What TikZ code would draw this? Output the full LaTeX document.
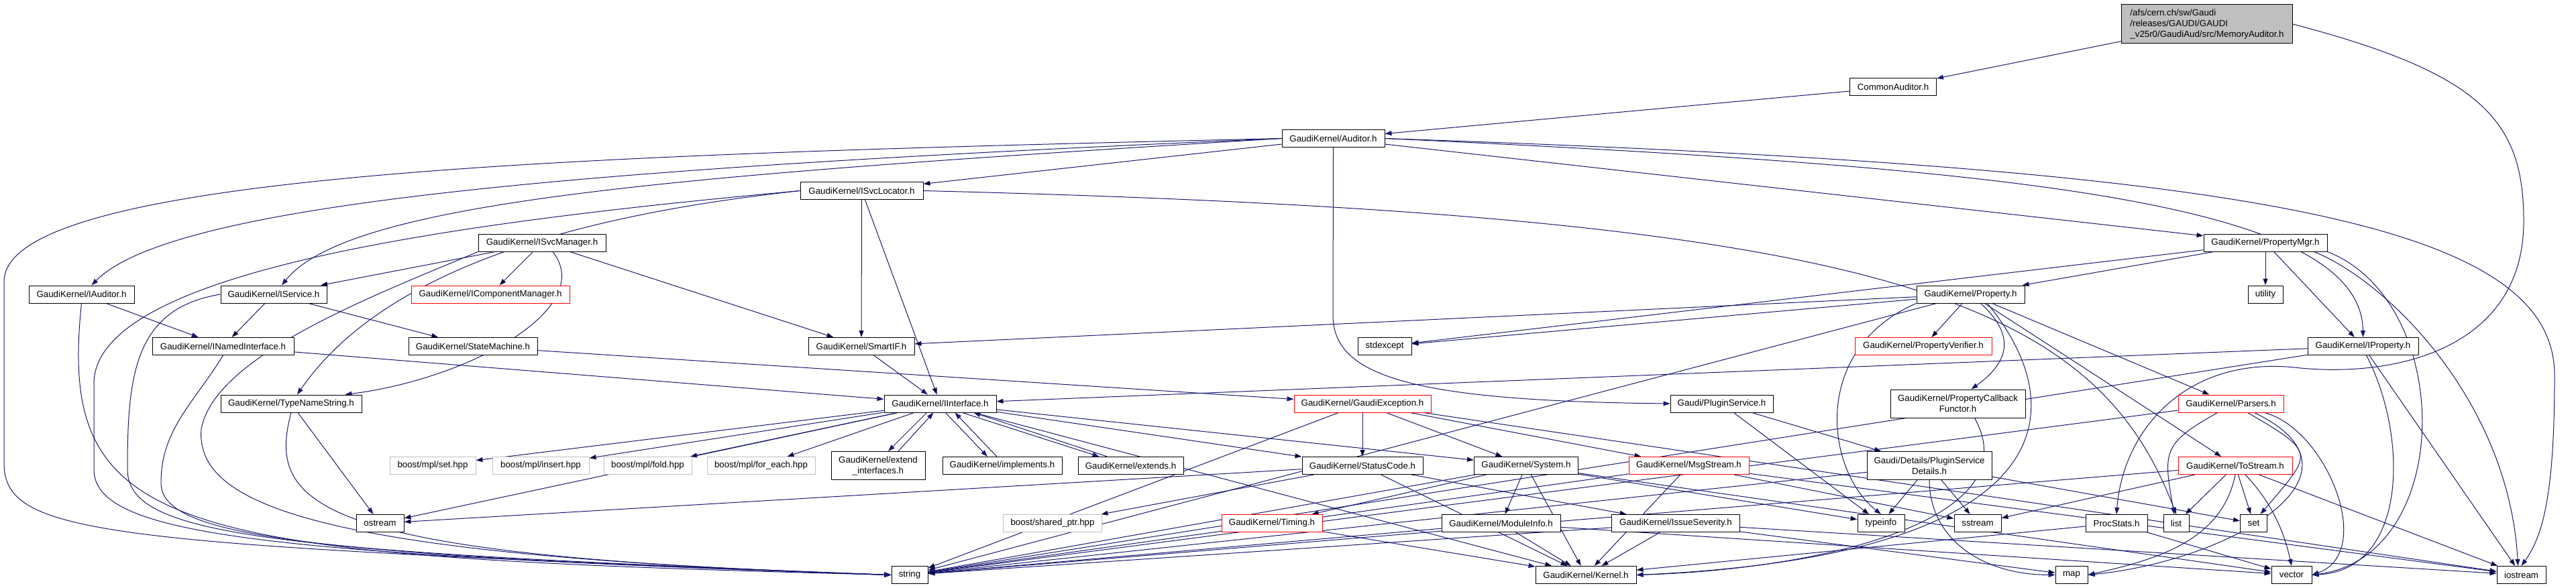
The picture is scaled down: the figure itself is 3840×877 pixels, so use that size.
\documentclass[tikz,border=0pt]{standalone}
\usepackage{fontspec}
\setmainfont{Liberation Sans}
\usepackage{xcolor}
\usepackage{tikz}
\usetikzlibrary{arrows.meta}
\definecolor{edgeblue}{HTML}{191970}
\definecolor{extgray}{HTML}{BFBFBF}
\pgfdeclarelayer{links}
\pgfsetlayers{links,main}
\tikzset{
	hdrnode/.style={rectangle, draw=black, fill=white, line width=1pt, minimum height=26pt, inner sep=2pt, align=center, font=\fontsize{13.3}{16}\selectfont},
	cutnode/.style={hdrnode, draw=red},
	extnode/.style={hdrnode, draw=extgray},
	topnode/.style={hdrnode, fill=extgray, minimum height=58pt, align=left},
	dep/.style={>={Triangle[length=10pt, width=7pt]}, ->, draw=edgeblue, line width=1pt}
}

\begin{document}
\begin{tikzpicture}[x=1pt, y=-1pt]
	\useasboundingbox (0,0) rectangle (3840,877);

	\node[topnode, minimum width=255pt] at (3290,36) (main) {/afs/cern.ch/sw/Gaudi\\/releases/GAUDI/GAUDI\\\_v25r0/GaudiAud/src/MemoryAuditor.h};
	\node[hdrnode, minimum width=129pt] at (2822,130) (commonaud) {CommonAuditor.h};
	\node[hdrnode, minimum width=153pt] at (1987.5,206.5) (auditor) {GaudiKernel/Auditor.h};
	\node[hdrnode, minimum width=183pt] at (1284.5,284.5) (isvcloc) {GaudiKernel/ISvcLocator.h};
	\node[hdrnode, minimum width=190pt] at (808,362) (isvcmgr) {GaudiKernel/ISvcManager.h};
	\node[hdrnode, minimum width=184pt] at (3377,362) (propmgr) {GaudiKernel/PropertyMgr.h};

	\node[hdrnode, minimum width=157pt] at (121.5,439) (iauditor) {GaudiKernel/IAuditor.h};
	\node[hdrnode, minimum width=158pt] at (408,439) (iservice) {GaudiKernel/IService.h};
	\node[cutnode, minimum width=236pt] at (731,439) (icompmgr) {GaudiKernel/IComponentManager.h};
	\node[hdrnode, minimum width=161pt] at (2937.5,439) (prop) {GaudiKernel/Property.h};
	\node[hdrnode, minimum width=52pt] at (3377,439) (utility) {utility};

	\node[hdrnode, minimum width=211pt] at (332.5,516.5) (inamed) {GaudiKernel/INamedInterface.h};
	\node[hdrnode, minimum width=192pt] at (705,516.5) (statemach) {GaudiKernel/StateMachine.h};
	\node[hdrnode, minimum width=158pt] at (1284,516.5) (smartif) {GaudiKernel/SmartIF.h};
	\node[hdrnode, minimum width=80pt] at (2064,516.5) (stdexcept) {stdexcept};
	\node[cutnode, minimum width=204pt] at (2867,516.5) (propverif) {GaudiKernel/PropertyVerifier.h};
	\node[hdrnode, minimum width=165pt] at (3522.5,516.5) (iprop) {GaudiKernel/IProperty.h};

	\node[hdrnode, minimum width=210pt] at (434,602) (typename) {GaudiKernel/TypeNameString.h};
	\node[hdrnode, minimum width=167pt] at (1401.5,602) (iiface) {GaudiKernel/IInterface.h};
	\node[cutnode, minimum width=204pt] at (2031,602) (gexcept) {GaudiKernel/GaudiException.h};
	\node[hdrnode, minimum width=153pt] at (2566.5,602) (pluginsvc) {Gaudi/PluginService.h};
	\node[hdrnode, minimum width=201pt, minimum height=42pt] at (2918.5,602) (propcb) {GaudiKernel/PropertyCallback\\Functor.h};
	\node[cutnode, minimum width=157pt] at (3325.5,602) (parsers) {GaudiKernel/Parsers.h};

	\node[extnode, minimum width=128pt] at (645,694.5) (mplset) {boost/mpl/set.hpp};
	\node[extnode, minimum width=144pt] at (806,694.5) (mplinsert) {boost/mpl/insert.hpp};
	\node[extnode, minimum width=131pt] at (965.5,694.5) (mplfold) {boost/mpl/fold.hpp};
	\node[extnode, minimum width=161pt] at (1134.5,694.5) (mplforeach) {boost/mpl/for\_each.hpp};
	\node[hdrnode, minimum width=140pt, minimum height=42pt] at (1309,694.5) (extendif) {GaudiKernel/extend\\\_interfaces.h};
	\node[hdrnode, minimum width=178pt] at (1494,694.5) (implements) {GaudiKernel/implements.h};
	\node[hdrnode, minimum width=157pt] at (1685.5,694.5) (extends) {GaudiKernel/extends.h};
	\node[hdrnode, minimum width=180pt] at (2031,694.5) (statuscode) {GaudiKernel/StatusCode.h};
	\node[hdrnode, minimum width=155pt] at (2275,694.5) (system) {GaudiKernel/System.h};
	\node[cutnode, minimum width=179pt] at (2517.5,694.5) (msgstream) {GaudiKernel/MsgStream.h};
	\node[hdrnode, minimum width=186pt, minimum height=42pt] at (2876,694.5) (psdetails) {Gaudi/Details/PluginService\\Details.h};
	\node[cutnode, minimum width=170pt] at (3332,694.5) (tostream) {GaudiKernel/ToStream.h};

	\node[hdrnode, minimum width=71pt] at (566.5,780.5) (ostream) {ostream};
	\node[extnode, minimum width=147pt] at (1569,780.5) (sharedptr) {boost/shared\_ptr.hpp};
	\node[cutnode, minimum width=150pt] at (1896,780.5) (timing) {GaudiKernel/Timing.h};
	\node[hdrnode, minimum width=177pt] at (2237.5,780.5) (modinfo) {GaudiKernel/ModuleInfo.h};
	\node[hdrnode, minimum width=191pt] at (2498,780.5) (issuesev) {GaudiKernel/IssueSeverity.h};
	\node[hdrnode, minimum width=70pt] at (2804,780.5) (typeinfo) {typeinfo};
	\node[hdrnode, minimum width=70pt] at (2948,780.5) (sstream) {sstream};
	\node[hdrnode, minimum width=92pt] at (3155,780.5) (procstats) {ProcStats.h};
	\node[hdrnode, minimum width=38pt] at (3244,780.5) (list) {list};
	\node[hdrnode, minimum width=40pt] at (3359.5,780.5) (set) {set};

	\node[hdrnode, minimum width=54pt] at (1356,857.5) (string) {string};
	\node[hdrnode, minimum width=150pt] at (2364,857.5) (kernel) {GaudiKernel/Kernel.h};
	\node[hdrnode, minimum width=48pt] at (3088,857.5) (map) {map};
	\node[hdrnode, minimum width=60pt] at (3416,857.5) (vector) {vector};
	\node[hdrnode, minimum width=73pt] at (3758.5,857.5) (iostream) {iostream};

	\begin{pgfonlayer}{links}
	% the audited file
	\draw[dep] (main) -- (commonaud);
	\draw[dep] (main.east) .. controls (3700,110) and (3762,180) .. (3762,330) .. controls (3762,520) and (3570,565) .. (3420,548) .. controls (3260,532) and (3165,640) .. (procstats.north);
	\draw[dep] (commonaud) -- (auditor);

	% Auditor.h
	\draw[dep] (auditor) edge (isvcloc) edge (propmgr);
	\draw[dep] (auditor.west) .. controls (900,250) and (260,300) .. ([xshift=15pt]iauditor.north);
	\draw[dep] (auditor.west) .. controls (1000,262) and (520,300) .. ([xshift=12pt]iservice.north);
	\draw[dep] (auditor.south) -- (1987,470) .. controls (1987,560) and (2100,598) .. (pluginsvc.west);
	\draw[dep] (auditor.east) .. controls (3000,250) and (3520,300) .. (iprop.north);
	\draw[dep] (auditor.east) .. controls (3350,250) and (3808,330) .. (3808,560) .. controls (3808,740) and (3790,800) .. (iostream.north);
	\draw[dep] (auditor.west) .. controls (900,230) and (6,255) .. (6,420) -- (6,690) .. controls (6,800) and (150,812) .. (string.west);

	% left side interfaces
	\draw[dep] (iauditor) -- (inamed);
	\draw[dep] (iauditor.south) .. controls (85,800) and (250,830) .. (string.west);
	\draw[dep] (iservice) edge (inamed) edge (statemach);
	\draw[dep] (iservice.west) .. controls (200,460) and (190,560) .. (190,700) .. controls (190,800) and (400,822) .. (string.west);
	\draw[dep] (inamed) -- (iiface);
	\draw[dep] (inamed.south) .. controls (290,600) and (240,640) .. (240,720) .. controls (240,800) and (450,828) .. (string.west);

	% service locator and manager
	\draw[dep] (isvcloc) edge (smartif) edge (iiface);
	\draw[dep] (isvcloc.west) .. controls (944,312) and (590,375) .. ([xshift=9pt]typename.north);
	\draw[dep] (isvcloc.west) .. controls (700,330) and (145,400) .. (140,570) -- (140,700) .. controls (140,800) and (400,826) .. (string.west);
	\draw[dep] (isvcloc.east) .. controls (2800,320) and (3120,440) .. (list.north);
	\draw[dep] (isvcmgr) edge (icompmgr) edge (iservice) edge (smartif);
	\draw[dep] ([xshift=16pt]isvcmgr.south) .. controls (890,460) and (700,565) .. ([xshift=-25pt]typename.north east);
	\draw[dep] (isvcmgr.south west) .. controls (560,440) and (320,530) .. (300,640) .. controls (290,760) and (500,830) .. (string.west);

	% properties
	\draw[dep] (propmgr) edge (prop) edge (iprop) edge (utility) edge (stdexcept);
	\draw[dep] ([xshift=-20pt]propmgr.south east) .. controls (3560,420) and (3740,600) .. ([xshift=-5pt]iostream.north);
	\draw[dep] (propmgr.south east) .. controls (3660,450) and (3660,830) .. (vector.east);
	\draw[dep] (prop) edge (propverif) edge (parsers) edge (tostream) edge (smartif) edge (stdexcept) edge (string);
	\draw[dep] ([xshift=15pt]prop.south) .. controls (3005,500) and (2995,540) .. ([xshift=20pt]propcb.north);
	\draw[dep] ([xshift=25pt]prop.south) .. controls (3100,620) and (3060,830) .. (kernel.east);
	\draw[dep] (prop.south west) .. controls (2700,520) and (2720,700) .. (typeinfo.north);
	\draw[dep] (iprop) edge (iiface) edge (string) edge (iostream);
	\draw[dep] ([xshift=5pt]iprop.south) .. controls (3590,650) and (3590,850) .. (vector.east);

	% IInterface and friends
	\draw[dep] (iiface) edge (mplset) edge (mplinsert) edge (mplfold) edge (mplforeach) edge (ostream) edge (statuscode) edge (system) edge (kernel);
	\draw[dep] ([xshift=-20pt]iiface.south) -- ([xshift=15pt]extendif.north);
	\draw[dep] ([xshift=30pt]extendif.north) -- ([xshift=-10pt]iiface.south);
	\draw[dep] ([xshift=8pt]iiface.south) -- ([xshift=-22pt]implements.north);
	\draw[dep] ([xshift=-8pt]implements.north) -- ([xshift=22pt]iiface.south);
	\draw[dep] ([xshift=33pt]iiface.south) -- ([xshift=-47pt]extends.north);
	\draw[dep] ([xshift=-35pt]extends.north) -- ([xshift=50pt]iiface.south);
	\draw[dep] (smartif) -- (iiface);
	\draw[dep] (typename) -- (ostream);
	\draw[dep] (typename.south) .. controls (395,760) and (480,830) .. (string.west);
	\draw[dep] (statemach) -- (gexcept);

	% exceptions, status codes, system
	\draw[dep] (gexcept) edge (statuscode) edge (system) edge (msgstream) edge (string) edge (iostream);
	\draw[dep] (statuscode) edge (ostream) edge (issuesev) edge (sharedptr) edge (kernel);
	\draw[dep] (system) edge (modinfo) edge (kernel) edge (timing) edge (string) edge (vector) edge (typeinfo);
	\draw[dep] (msgstream) edge (kernel) edge (sstream) edge (iostream) edge (string);
	\draw[dep] (modinfo) edge (kernel) edge (string) edge (vector);
	\draw[dep] (issuesev) edge (kernel) edge (string) edge (map) edge (iostream);
	\draw[dep] (timing) -- (kernel);

	% plugin service
	\draw[dep] (pluginsvc) edge (psdetails) edge (typeinfo);
	\draw[dep] (psdetails) edge (typeinfo) edge (sstream) edge (set) edge (string);
	\draw[dep] (psdetails.south) .. controls (2876,800) and (2950,857) .. (map.west);
	\draw[dep] ([xshift=25pt]propcb.south) .. controls (3030,780) and (2700,850) .. (kernel.east);

	% parsers and streams
	\draw[dep] (parsers) -- (string);
	\draw[dep] ([xshift=-20pt]parsers.south) .. controls (3222,662) and (3225,675) .. ([xshift=-3pt]list.north);
	\draw[dep] ([xshift=25pt]parsers.south) .. controls (3454,676) and (3448,675) .. ([xshift=10pt]set.north);
	\draw[dep] ([xshift=50pt]parsers.south) .. controls (3469,640) and (3541,824) .. (vector.east);
	\draw[dep] ([xshift=35pt]parsers.south) .. controls (3549,706) and (3327,836) .. (map.east);
	\draw[dep] (tostream) edge (list) edge (set) edge (iostream) edge (sstream) edge (string);
	\draw[dep] ([xshift=15pt]tostream.south) .. controls (3384,747) and (3404,789) .. (vector.north);
	\draw[dep] (tostream.south) .. controls (3312,808) and (3212,835) .. (map.east);
	\draw[dep] (procstats) edge (vector) edge (kernel);
	\end{pgfonlayer}
\end{tikzpicture}
\end{document}
